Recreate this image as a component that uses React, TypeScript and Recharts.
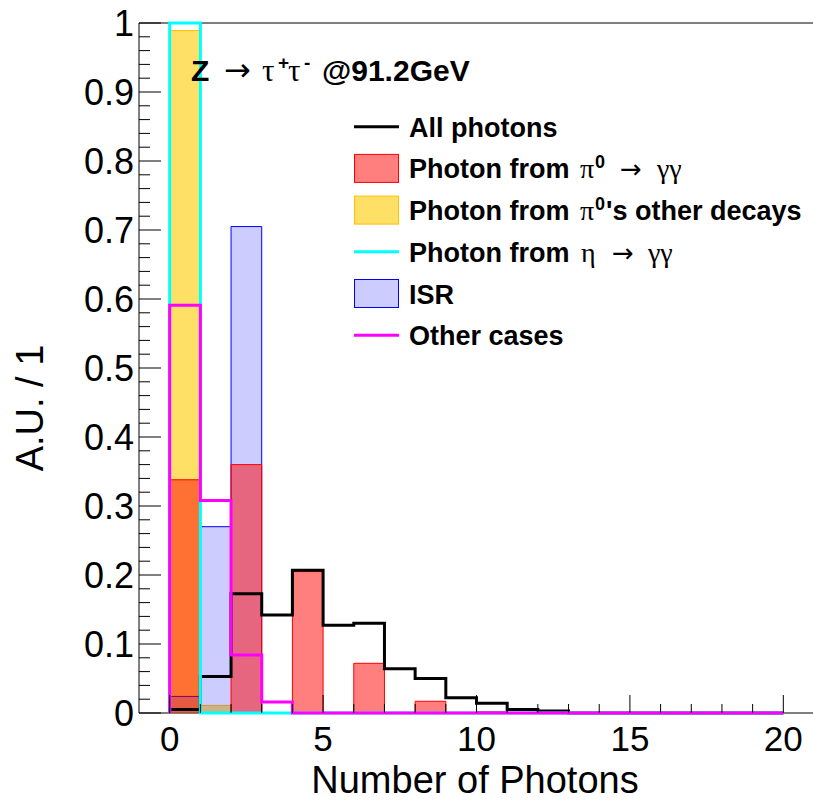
import React from "react";
import { ComposedChart, Area, Line, XAxis, YAxis, ReferenceLine } from "recharts";

// lower edges of the unit-width bins (0..19)
const binLow = [0, 1, 2, 3, 4, 5, 6, 7, 8, 9, 10, 11, 12, 13, 14, 15, 16, 17, 18, 19];

// normalised photon multiplicities per category
const allPhotons = [0.005, 0.053, 0.173, 0.142, 0.207, 0.127, 0.13, 0.064, 0.05, 0.022, 0.014, 0.005, 0.003, 0, 0, 0, 0, 0, 0, 0];
const pi0ToGG = [0.338, 0, 0.36, 0, 0.205, 0, 0.072, 0, 0.017, 0, 0.002, 0, 0, 0, 0, 0, 0, 0, 0, 0];
const pi0Other = [0.989, 0.011, 0, 0, 0, 0, 0, 0, 0, 0, 0, 0, 0, 0, 0, 0, 0, 0, 0, 0];
const etaToGG = [1.0, 0, 0, 0, 0, 0, 0, 0, 0, 0, 0, 0, 0, 0, 0, 0, 0, 0, 0, 0];
const isr = [0.024, 0.27, 0.705, 0, 0, 0, 0, 0, 0, 0, 0, 0, 0, 0, 0, 0, 0, 0, 0, 0];
const otherCases = [0.591, 0.308, 0.084, 0.016, 0, 0, 0, 0, 0, 0, 0, 0, 0, 0, 0, 0, 0, 0, 0, 0];

const xMajorTicks = [0, 5, 10, 15, 20];
const xTickLabels = ["0", "5", "10", "15", "20"];
const yMajorTicks = [0, 0.1, 0.2, 0.3, 0.4, 0.5, 0.6, 0.7, 0.8, 0.9, 1];
const yTickLabels = ["0", "0.1", "0.2", "0.3", "0.4", "0.5", "0.6", "0.7", "0.8", "0.9", "1"];

const zero = { all: 0, pi0: 0, pi0o: 0, eta: 0, isr: 0, other: 0 };

// step rows: a zero at the left edge, one row per bin, then a closing zero at x=20
const rows = [
  { x: 0, ...zero },
  ...binLow.map((x, i) => ({
    x,
    all: allPhotons[i],
    pi0: pi0ToGG[i],
    pi0o: pi0Other[i],
    eta: etaToGG[i],
    isr: isr[i],
    other: otherCases[i],
  })),
  { x: 20, ...zero },
];

// minor ticks every 1 on x, every 0.02 on y
const xTicks = Array.from({ length: 21 }, (_, i) => i);
const yTicks = Array.from({ length: 51 }, (_, i) => Math.round(i * 2) / 100);

const SANS = "'Liberation Sans', Arial, Helvetica, sans-serif";
const SERIF = "'Liberation Serif', 'Times New Roman', serif";
const ARROW_FONT = "'DejaVu Sans', sans-serif";

const XTick = (props: any) => {
  const { x, y, payload } = props;
  const idx = xMajorTicks.indexOf(payload.value);
  const major = idx >= 0;
  return (
    <g>
      <line x1={x} x2={x} y1={y} y2={y - (major ? 18 : 9)} stroke="#000" strokeWidth={1} />
      {major && (
        <text x={x} y={y + 38} textAnchor="middle" fontFamily={SANS} fontSize={35} fill="#000">
          {xTickLabels[idx]}
        </text>
      )}
    </g>
  );
};

const YTick = (props: any) => {
  const { x, y, payload } = props;
  const idx = yMajorTicks.findIndex((t) => Math.abs(t - payload.value) < 1e-6);
  const major = idx >= 0;
  return (
    <g>
      <line x1={x} x2={x + (major ? 22 : 11)} y1={y} y2={y} stroke="#000" strokeWidth={1} />
      {major && (
        <text x={x - 5} y={y + 13} textAnchor="end" fontFamily={SANS} fontSize={36} fill="#000">
          {yTickLabels[idx]}
        </text>
      )}
    </g>
  );
};

const legendRows = [
  { kind: "line", color: "#000000" },
  { kind: "box", fill: "rgba(255,0,0,0.5)", stroke: "#ff0000" },
  { kind: "box", fill: "rgba(255,204,0,0.6)", stroke: "#ffc000" },
  { kind: "line", color: "#00ffff" },
  { kind: "box", fill: "rgba(0,0,255,0.2)", stroke: "#0000ff" },
  { kind: "line", color: "#ff00ff" },
];

const FS = 27;
const greek = { fontFamily: SERIF, fontWeight: "normal" as const, fontSize: FS + 1 };
const arrow = { fontFamily: ARROW_FONT, fontWeight: "normal" as const, fontSize: 26 };

const legendLabel = (i: number) => {
  switch (i) {
    case 0:
      return <tspan>All photons</tspan>;
    case 1:
      return (
        <>
          <tspan>Photon from </tspan>
          <tspan x={580} {...greek}>π</tspan>
          <tspan x={595} fontSize={18} dy={-10}>0</tspan>
          <tspan x={620} dy={10} {...arrow}>→</tspan>
          <tspan x={657} {...greek}>γγ</tspan>
        </>
      );
    case 2:
      return (
        <>
          <tspan>Photon from </tspan>
          <tspan x={580} {...greek}>π</tspan>
          <tspan x={595} fontSize={18} dy={-10}>0</tspan>
          <tspan x={606} dy={10}>'s other decays</tspan>
        </>
      );
    case 3:
      return (
        <>
          <tspan>Photon from </tspan>
          <tspan x={581} {...greek}>η</tspan>
          <tspan x={612} {...arrow}>→</tspan>
          <tspan x={648} {...greek}>γγ</tspan>
        </>
      );
    case 4:
      return <tspan>ISR</tspan>;
    default:
      return <tspan>Other cases</tspan>;
  }
};

const Legend = () => {
  const top = 126.7;
  const step = 41.7;
  return (
    <g>
      {legendRows.map((r, i) => {
        const cy = top + i * step;
        return (
          <g key={i}>
            {r.kind === "line" ? (
              <line x1={354} x2={399} y1={cy} y2={cy} stroke={r.color} strokeWidth={3} />
            ) : (
              <rect x={354.5} y={cy - 14} width={44} height={28} fill={r.fill} stroke={r.stroke} strokeWidth={1} />
            )}
            <text x={409} y={cy + 10} fontFamily={SANS} fontWeight="bold" fontSize={FS} fill="#000">
              {legendLabel(i)}
            </text>
          </g>
        );
      })}
    </g>
  );
};

export default function App() {
  return (
    <div style={{ position: "absolute", left: 0, top: 0, width: 813, height: 800, overflow: "hidden", background: "#fff" }}>
      <ComposedChart
        width={824}
        height={800}
        data={rows}
        margin={{ top: 23, right: 10, left: 109, bottom: 57 }}
      >
        <XAxis
          type="number"
          dataKey="x"
          domain={[-1, 21]}
          ticks={xTicks}
          interval={0}
          tickSize={0}
          tickMargin={0}
          height={30}
          tick={<XTick />}
          axisLine={{ stroke: "#000", strokeWidth: 1 }}
          tickLine={false}
          zIndex={50}
        />
        <YAxis
          type="number"
          domain={[0, 1]}
          ticks={yTicks}
          interval={0}
          tickSize={0}
          tickMargin={0}
          width={30}
          tick={<YTick />}
          axisLine={{ stroke: "#000", strokeWidth: 1 }}
          tickLine={false}
          zIndex={50}
        />
        <ReferenceLine y={1} stroke="#000" strokeWidth={1} zIndex={50} />
        <Area type="stepAfter" dataKey="pi0o" fill="#ffcc00" fillOpacity={0.6} stroke="#ffc000" strokeWidth={1} isAnimationActive={false} />
        <Area type="stepAfter" dataKey="isr" fill="#0000ff" fillOpacity={0.2} stroke="#0000ff" strokeWidth={1} isAnimationActive={false} />
        <Area type="stepAfter" dataKey="pi0" fill="#ff0000" fillOpacity={0.5} stroke="#ff0000" strokeWidth={1} isAnimationActive={false} />
        <Line type="stepAfter" dataKey="all" stroke="#000000" strokeWidth={3} dot={false} isAnimationActive={false} />
        <Line type="stepAfter" dataKey="eta" stroke="#00ffff" strokeWidth={3} dot={false} isAnimationActive={false} />
        <Line type="stepAfter" dataKey="other" stroke="#ff00ff" strokeWidth={3} dot={false} isAnimationActive={false} />
      </ComposedChart>
      <svg width={813} height={800} style={{ position: "absolute", left: 0, top: 0, pointerEvents: "none" }}>
        <text x={191} y={81} fontFamily={SANS} fontWeight="bold" fontSize={30} fill="#000">
          <tspan>Z</tspan>
          <tspan x={224} fontFamily={ARROW_FONT} fontWeight="normal" fontSize={32}>→</tspan>
          <tspan x={262} fontFamily={SERIF} fontWeight="normal" fontSize={31}>τ</tspan>
          <tspan x={278} fontSize={19} dy={-12}>+</tspan>
          <tspan x={288} dy={12} fontFamily={SERIF} fontWeight="normal" fontSize={31}>τ</tspan>
          <tspan x={304} fontSize={19} dy={-12}>-</tspan>
          <tspan x={322} dy={12}>@91.2GeV</tspan>
        </text>
        <Legend />
        <text x={475} y={793} textAnchor="middle" fontFamily={SANS} fontSize={38} fill="#000">
          Number of Photons
        </text>
        <text
          x={0}
          y={0}
          transform="translate(43,408) rotate(-90)"
          textAnchor="middle"
          fontFamily={SANS}
          fontSize={38}
          fill="#000"
        >
          A.U. / 1
        </text>
      </svg>
    </div>
  );
}
